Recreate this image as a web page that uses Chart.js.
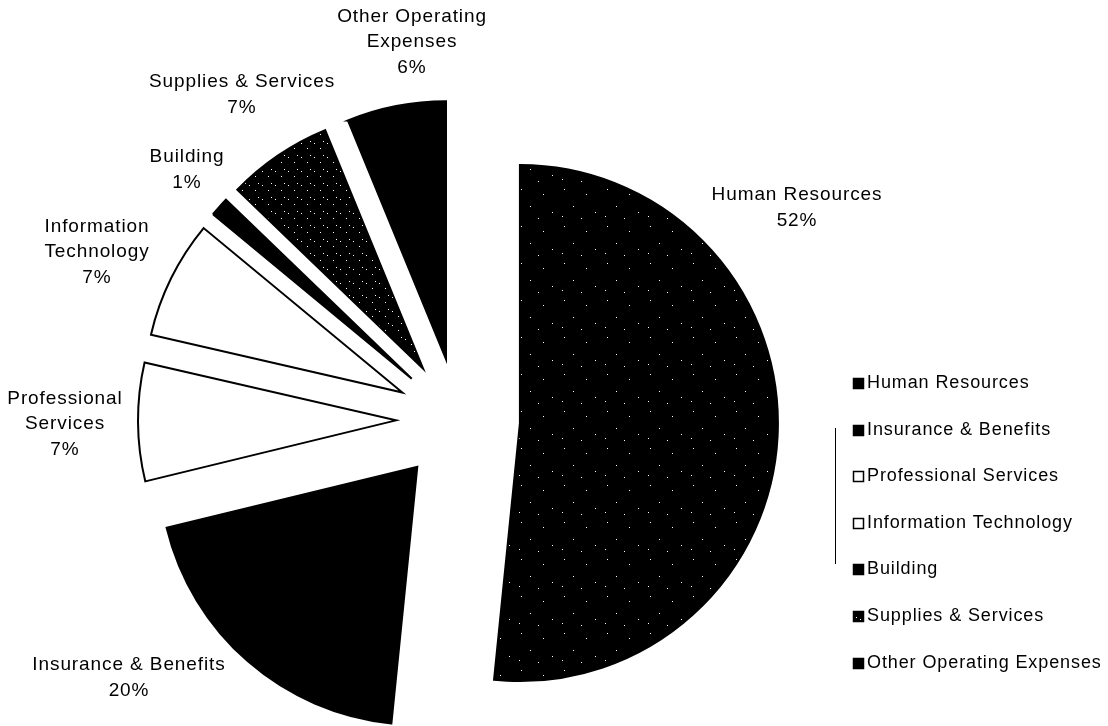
<!DOCTYPE html>
<html>
<head>
<meta charset="utf-8">
<title>Expenses by category</title>
<script src="https://cdn.jsdelivr.net/npm/chart.js@4.4.1/dist/chart.umd.min.js"></script>
<style>
  html, body { margin: 0; padding: 0; background: #fff; }
  #wrap { width: 1108px; height: 726px; position: relative; }
</style>
</head>
<body>
<div id="wrap"><canvas id="pie-chart"></canvas></div>
<script>
// Chart data
// ------------------------------
var categories = ["Human Resources", "Insurance & Benefits", "Professional Services",
                  "Information Technology", "Building", "Supplies & Services",
                  "Other Operating Expenses"];
// percent of total (they round to the printed labels)
var shares = [51.6, 19.6, 7.4, 7.4, 1.2, 6.6, 6.2];

// label text, broken into rows the way the picture does it
var labelLines = [["Human Resources"], ["Insurance & Benefits"], ["Professional", "Services"],
                  ["Information", "Technology"], ["Building"], ["Supplies & Services"],
                  ["Other Operating", "Expenses"]];

// layout: where each label block sits, relative to the pie centre
var labelSpots = [[339, -212], [-329, 258], [-393, 4], [-361, -168],
                  [-271, -250], [-216, -325], [-46, -378]];

var SHIFT = 62;        // how far every slice is pulled out
var LINE = 25.5;       // label row height
var LEGEND_TOP = 383;
var LEGEND_STEP = 46.6;

var ctx = document.getElementById("pie-chart").getContext("2d");

// black fill with scattered white specks, like the scanned original
function dotPattern(w, h, dots) {
    var tile = document.createElement("canvas");
    tile.width = w; tile.height = h;
    var g = tile.getContext("2d");
    g.fillStyle = "#000";
    g.fillRect(0, 0, w, h);
    g.fillStyle = "#fff";
    dots.forEach(function (d) { g.fillRect(d[0], d[1], 1, 1); });
    return ctx.createPattern(tile, "repeat");
}

var hrFill = dotPattern(43, 37, [[5, 4], [27, 9], [14, 21], [36, 27], [3, 31], [22, 33]]);
var supFill = dotPattern(13, 14, [[2, 3], [8, 8], [11, 1]]);
var sliceFills = [hrFill, "#000", "#fff", "#fff", "#000", supFill, "#000"];

// pull each slice out along its middle angle
var explode = {
    id: "explode",
    afterDatasetsUpdate: function (chart) {
        chart.getDatasetMeta(0).data.forEach(function (arc) {
            var mid = (arc.startAngle + arc.endAngle) / 2;
            arc.x += Math.cos(mid) * SHIFT;
            arc.y += Math.sin(mid) * SHIFT;
        });
    }
};

// name + percent labels around the pie
var pieLabels = {
    id: "pieLabels",
    afterDatasetsDraw: function (chart) {
        var c = chart.ctx, area = chart.chartArea;
        var cx = (area.left + area.right) / 2, cy = (area.top + area.bottom) / 2;
        var total = shares.reduce(function (a, b) { return a + b; }, 0);
        c.save();
        c.font = '19px "Liberation Sans", Arial, sans-serif';
        c.letterSpacing = "0.9px";
        c.fillStyle = "#000";
        c.textAlign = "center";
        c.textBaseline = "middle";
        labelLines.forEach(function (lines, i) {
            var rows = lines.concat([Math.round(shares[i] / total * 100) + "%"]);
            var x = cx + labelSpots[i][0];
            var y0 = cy + labelSpots[i][1] - (rows.length - 1) * LINE / 2;
            rows.forEach(function (t, k) { c.fillText(t, x, y0 + k * LINE); });
        });
        c.restore();
    }
};

// excel style legend on the right
var sideLegend = {
    id: "sideLegend",
    afterDraw: function (chart) {
        var c = chart.ctx;
        c.save();
        c.strokeStyle = "#000";
        c.lineWidth = 1;
        c.beginPath();
        c.moveTo(835.5, 428);
        c.lineTo(835.5, 564);
        c.stroke();
        c.font = '18px "Liberation Sans", Arial, sans-serif';
        c.letterSpacing = "0.9px";
        c.textAlign = "left";
        c.textBaseline = "middle";
        categories.forEach(function (name, i) {
            var y = Math.round(LEGEND_TOP + i * LEGEND_STEP);
            c.fillStyle = sliceFills[i];
            c.fillRect(853, y - 5, 11, 11);
            c.lineWidth = 1.5;
            c.strokeRect(853.5, y - 4.5, 10, 10);
            c.fillStyle = "#000";
            c.fillText(name, 867, y);
        });
        c.restore();
    }
};

var chartData = {
    labels: categories,
    datasets: [{
        data: shares,
        backgroundColor: sliceFills,
        borderColor: "#000",
        borderWidth: 2,
        borderJoinStyle: "miter",
        radius: 258,
        clip: false
    }]
};

var chartOptions = {
    responsive: true,
    maintainAspectRatio: false,
    animation: false,
    layout: { padding: { left: 0, right: 192, top: 114, bottom: 0 } },
    plugins: {
        legend: { display: false },
        tooltip: { enabled: false }
    }
};

var pieChart = new Chart(ctx, {
    type: "pie",
    data: chartData,
    options: chartOptions,
    plugins: [explode, pieLabels, sideLegend]
});
</script>
</body>
</html>
